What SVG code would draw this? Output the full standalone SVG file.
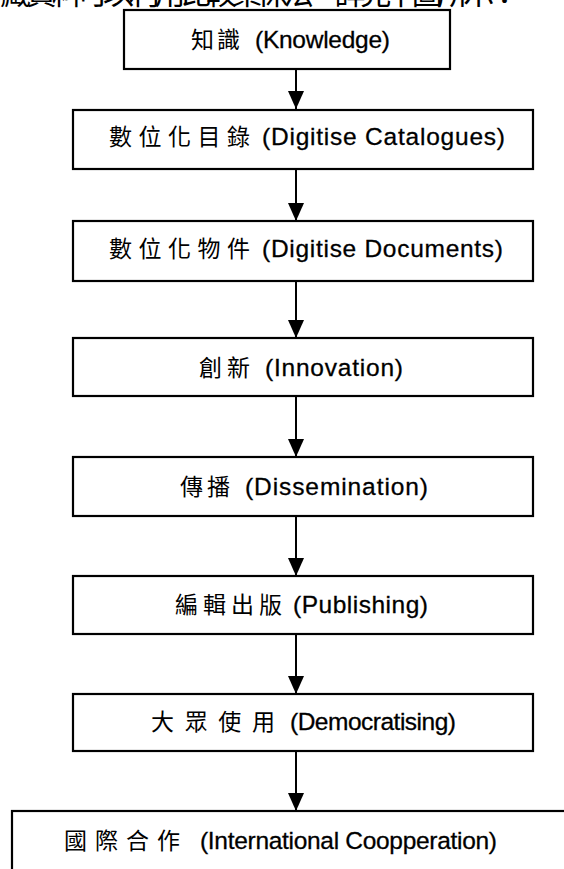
<svg xmlns="http://www.w3.org/2000/svg" width="564" height="869" viewBox="0 0 564 869">
<style>
.box{fill:#fff;stroke:#000;stroke-width:2.2}
.zh{font-family:"Noto Sans CJK TC","Noto Sans CJK SC",sans-serif;font-size:23px;fill:#000}
.en{font-family:"Liberation Sans",Arial,sans-serif;font-size:24.5px;fill:#000;stroke:#000;stroke-width:0.3}
.con{stroke:#000;stroke-width:2;fill:none}
</style>
<defs>
<marker id="ah" markerWidth="18" markerHeight="16" refX="18" refY="8" orient="auto" markerUnits="userSpaceOnUse">
<path d="M0,0 L18,8 L0,16 Z" fill="#000"/>
</marker>
</defs>
<rect width="564" height="869" fill="#fff"/>
<text class="zh" x="0" y="4" textLength="520" style="font-size:31px">藏資料可以利用比較集保法，詳見下圖所示：</text>
<g id="connectors">
<line class="con" x1="296" y1="69" x2="296" y2="109" marker-end="url(#ah)"/>
<line class="con" x1="296" y1="169" x2="296" y2="221" marker-end="url(#ah)"/>
<line class="con" x1="296" y1="281" x2="296" y2="338" marker-end="url(#ah)"/>
<line class="con" x1="296" y1="396" x2="296" y2="457" marker-end="url(#ah)"/>
<line class="con" x1="296" y1="516" x2="296" y2="576" marker-end="url(#ah)"/>
<line class="con" x1="296" y1="634" x2="296" y2="694" marker-end="url(#ah)"/>
<line class="con" x1="296" y1="751" x2="296" y2="811" marker-end="url(#ah)"/>
</g>
<g id="n1"><rect class="box" x="124" y="10" width="326" height="59"/>
<text class="zh" x="191" y="48" textLength="49">知識</text><text class="en" x="255" y="48" textLength="135">(Knowledge)</text></g>
<g id="n2"><rect class="box" x="73" y="110" width="460" height="59"/>
<text class="zh" x="109" y="145" textLength="141">數位化目錄</text><text class="en" x="262" y="145" textLength="243">(Digitise Catalogues)</text></g>
<g id="n3"><rect class="box" x="73" y="221" width="460" height="60"/>
<text class="zh" x="109" y="257" textLength="141">數位化物件</text><text class="en" x="262" y="257" textLength="241">(Digitise Documents)</text></g>
<g id="n4"><rect class="box" x="73" y="338" width="460" height="58"/>
<text class="zh" x="199" y="376" textLength="51">創新</text><text class="en" x="265" y="376" textLength="138">(Innovation)</text></g>
<g id="n5"><rect class="box" x="73" y="457" width="460" height="59"/>
<text class="zh" x="180" y="495" textLength="50">傳播</text><text class="en" x="245" y="495" textLength="183">(Dissemination)</text></g>
<g id="n6"><rect class="box" x="73" y="576" width="460" height="58"/>
<text class="zh" x="175" y="613" textLength="107">編輯出版</text><text class="en" x="293" y="613" textLength="135">(Publishing)</text></g>
<g id="n7"><rect class="box" x="73" y="694" width="460" height="57"/>
<text class="zh" x="151" y="730" textLength="124">大眾使用</text><text class="en" x="290" y="730" textLength="166">(Democratising)</text></g>
<g id="n8"><rect class="box" x="12" y="811" width="560" height="70"/>
<text class="zh" x="64" y="849" textLength="116">國際合作</text><text class="en" x="200" y="849" textLength="297">(International Coopperation)</text></g>
</svg>
